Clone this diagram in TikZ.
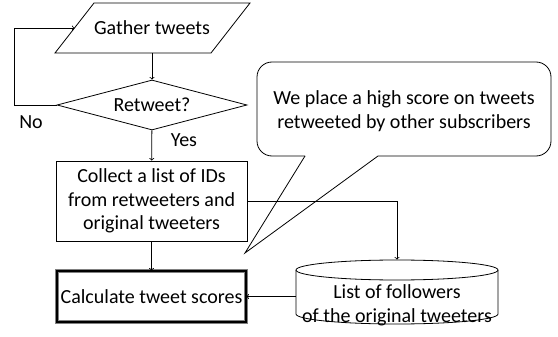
\documentclass[tikz,border=0pt]{standalone}
\usepackage{fontspec}
\setmainfont{Carlito}
\usetikzlibrary{shapes.geometric}
\begin{document}
\begin{tikzpicture}[x=1pt,y=-1pt,line width=0.8pt,
  txt/.style={font=\fontsize{20}{23.5}\selectfont,align=center,inner sep=1pt},
  flow/.style={txt,draw},
  arr/.style={->}]
  \useasboundingbox (0,0) rectangle (558,337);
  % input shape
  \draw (55,53) -- (94,3) -- (250,3) -- (211,53) -- cycle;
  \node[txt] (gather) at (152,28) {Gather tweets};
  \coordinate (gatherin) at (74.5,28);
  \coordinate (gatherout) at (152,53);
  \node[flow,diamond,inner sep=0pt,aspect=3.8,minimum width=190pt,minimum height=50pt] (retweet) at (152,105) {Retweet?};
  \node[flow,rectangle,minimum width=191pt,minimum height=80pt] (collect) at (151.5,201) {Collect a list of IDs\\from retweeters and\\original tweeters};
  \node[flow,rectangle,draw=gray,double=black,double distance=2pt,minimum width=189pt,minimum height=51pt] (calc) at (151.5,296.5) {Calculate tweet scores};
  % storage shape
  \node[rectangle,minimum width=202pt,minimum height=64pt,inner sep=0pt] (db) at (397,292) {};
  \draw (296,270) -- (296,314) arc[start angle=180,end angle=0,x radius=101,y radius=10] -- (498,270);
  \draw (397,270) ellipse [x radius=101,y radius=10];
  \node[txt] (dbtext) at (397,305.5) {List of followers\\of the original tweeters};
%%%
  \draw[arr] (gatherout) -- (retweet);
  \draw[arr] (retweet.west) -- ++(-42,0) |- (gatherin);
  \node[txt] (no) at (31,122) {No};
  \draw[arr] (retweet) -- (collect);
  \node[txt] (yes) at (184,140) {Yes};
  \draw[arr] (collect) -- (calc);
  \draw[arr] (collect.east) -| (db.north);
  \draw[arr] (calc.east -| db.west) -- (calc.east);
%%%
  \draw[fill=white,rounded corners=15pt] (305,156) -- (257,156) -- (257,62) -- (551,62) -- (551,156) -- (378,156);
  \draw (378,156) -- (245,253) -- (305,156);
  \node[txt] (note) at (404,111) {We place a high score on tweets\\retweeted by other subscribers};
%%%
\end{tikzpicture}
\end{document}
